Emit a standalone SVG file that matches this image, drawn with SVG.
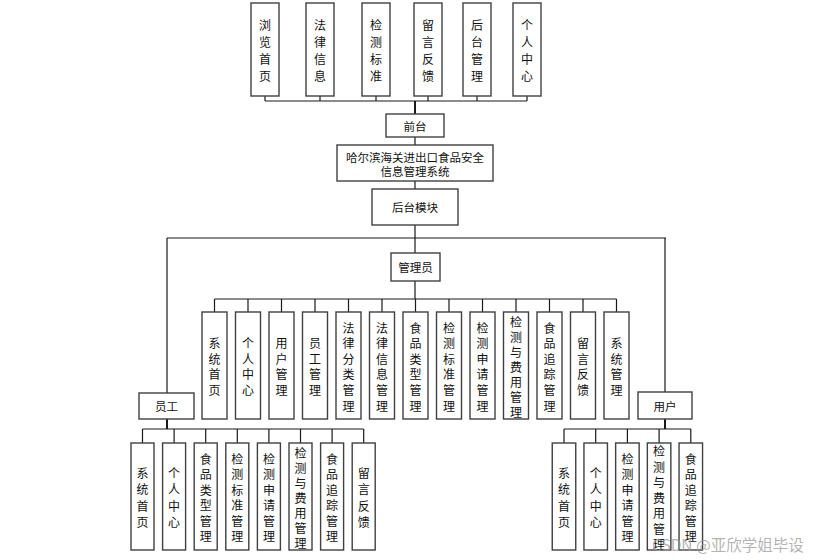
<svg xmlns="http://www.w3.org/2000/svg" width="816" height="560" viewBox="0 0 816 560">
<style>
.b{fill:#fff;stroke:#404040;stroke-width:1.4}
.c{fill:none;stroke:#1a1a1a;stroke-width:1.2}
.t{stroke-width:2}
text{font-family:"Noto Sans CJK SC","Noto Sans",sans-serif;fill:#111;text-anchor:middle;dominant-baseline:central}
.v{font-size:12px}
.h{font-size:11.5px}
.wm{font-size:15.5px;fill:#9a9a9a;fill-opacity:0.75;text-anchor:start;dominant-baseline:auto}
</style>
<rect width="816" height="560" fill="#fff"/>
<g id="connectors">
<path class="c" d="M265,96V101M320,96V101M376,96V101M428,96V101M477,96V101M527,96V101M265,101H527"/>
<path class="c t" d="M415,101V114"/>
<path class="c" d="M415,137V145M415,181V189M415,225V253M167,238H666M415,281V299"/>
<path class="c" d="M214.5,299H616.5M214.5,299V312M248,299V312M281.5,299V312M315,299V312M348.5,299V312M382,299V312M415.5,299V312M449,299V312M482.5,299V312M516,299V312M549.5,299V312M583,299V312M616.5,299V312"/>
<path class="c" d="M167,238V393M665,238V392"/>
<path class="c t" d="M167,419V429M665,419V429"/>
<path class="c" d="M142.5,429H363.7M142.5,429V443M174.1,429V443M205.7,429V443M237.3,429V443M268.9,429V443M300.5,429V443M332.1,429V443M363.7,429V443"/>
<path class="c" d="M564,429H690.8M564,429V443M595.7,429V443M627.4,429V443M659.1,429V443M690.8,429V443"/>
</g>
<g id="top1"><rect class="b" x="251" y="3" width="28" height="93"/><text class="v"><tspan x="265" y="24">浏</tspan><tspan x="265" y="41">览</tspan><tspan x="265" y="58">首</tspan><tspan x="265" y="75">页</tspan></text></g>
<g id="top2"><rect class="b" x="306" y="3" width="28" height="93"/><text class="v"><tspan x="320" y="24">法</tspan><tspan x="320" y="41">律</tspan><tspan x="320" y="58">信</tspan><tspan x="320" y="75">息</tspan></text></g>
<g id="top3"><rect class="b" x="362" y="3" width="28" height="93"/><text class="v"><tspan x="376" y="24">检</tspan><tspan x="376" y="41">测</tspan><tspan x="376" y="58">标</tspan><tspan x="376" y="75">准</tspan></text></g>
<g id="top4"><rect class="b" x="414" y="3" width="28" height="93"/><text class="v"><tspan x="428" y="24">留</tspan><tspan x="428" y="41">言</tspan><tspan x="428" y="58">反</tspan><tspan x="428" y="75">馈</tspan></text></g>
<g id="top5"><rect class="b" x="463" y="3" width="28" height="93"/><text class="v"><tspan x="477" y="24">后</tspan><tspan x="477" y="41">台</tspan><tspan x="477" y="58">管</tspan><tspan x="477" y="75">理</tspan></text></g>
<g id="top6"><rect class="b" x="513" y="3" width="28" height="93"/><text class="v"><tspan x="527" y="24">个</tspan><tspan x="527" y="41">人</tspan><tspan x="527" y="58">中</tspan><tspan x="527" y="75">心</tspan></text></g>
<g id="qiantai"><rect class="b" x="386" y="114" width="58" height="23"/><text class="h" x="415" y="125.5">前台</text></g>
<g id="system"><rect class="b" x="337" y="145" width="156" height="36"/><text class="h" x="415" y="156.5">哈尔滨海关进出口食品安全</text><text class="h" x="415" y="170.5">信息管理系统</text></g>
<g id="houtai"><rect class="b" x="372" y="189" width="86" height="36"/><text class="h" x="415" y="207">后台模块</text></g>
<g id="admin"><rect class="b" x="391" y="253" width="49" height="28"/><text class="h" x="415.5" y="267">管理员</text></g>
<g id="a1"><rect class="b" x="202" y="312" width="25" height="107"/><text class="v"><tspan x="214.5" y="342.1">系</tspan><tspan x="214.5" y="357.7">统</tspan><tspan x="214.5" y="373.3">首</tspan><tspan x="214.5" y="388.9">页</tspan></text></g>
<g id="a2"><rect class="b" x="235.5" y="312" width="25" height="107"/><text class="v"><tspan x="248" y="342.1">个</tspan><tspan x="248" y="357.7">人</tspan><tspan x="248" y="373.3">中</tspan><tspan x="248" y="388.9">心</tspan></text></g>
<g id="a3"><rect class="b" x="269" y="312" width="25" height="107"/><text class="v"><tspan x="281.5" y="342.1">用</tspan><tspan x="281.5" y="357.7">户</tspan><tspan x="281.5" y="373.3">管</tspan><tspan x="281.5" y="388.9">理</tspan></text></g>
<g id="a4"><rect class="b" x="302.5" y="312" width="25" height="107"/><text class="v"><tspan x="315" y="342.1">员</tspan><tspan x="315" y="357.7">工</tspan><tspan x="315" y="373.3">管</tspan><tspan x="315" y="388.9">理</tspan></text></g>
<g id="a5"><rect class="b" x="336" y="312" width="25" height="107"/><text class="v"><tspan x="348.5" y="326.5">法</tspan><tspan x="348.5" y="342.1">律</tspan><tspan x="348.5" y="357.7">分</tspan><tspan x="348.5" y="373.3">类</tspan><tspan x="348.5" y="388.9">管</tspan><tspan x="348.5" y="404.5">理</tspan></text></g>
<g id="a6"><rect class="b" x="369.5" y="312" width="25" height="107"/><text class="v"><tspan x="382" y="326.5">法</tspan><tspan x="382" y="342.1">律</tspan><tspan x="382" y="357.7">信</tspan><tspan x="382" y="373.3">息</tspan><tspan x="382" y="388.9">管</tspan><tspan x="382" y="404.5">理</tspan></text></g>
<g id="a7"><rect class="b" x="403" y="312" width="25" height="107"/><text class="v"><tspan x="415.5" y="326.5">食</tspan><tspan x="415.5" y="342.1">品</tspan><tspan x="415.5" y="357.7">类</tspan><tspan x="415.5" y="373.3">型</tspan><tspan x="415.5" y="388.9">管</tspan><tspan x="415.5" y="404.5">理</tspan></text></g>
<g id="a8"><rect class="b" x="436.5" y="312" width="25" height="107"/><text class="v"><tspan x="449" y="326.5">检</tspan><tspan x="449" y="342.1">测</tspan><tspan x="449" y="357.7">标</tspan><tspan x="449" y="373.3">准</tspan><tspan x="449" y="388.9">管</tspan><tspan x="449" y="404.5">理</tspan></text></g>
<g id="a9"><rect class="b" x="470" y="312" width="25" height="107"/><text class="v"><tspan x="482.5" y="326.5">检</tspan><tspan x="482.5" y="342.1">测</tspan><tspan x="482.5" y="357.7">申</tspan><tspan x="482.5" y="373.3">请</tspan><tspan x="482.5" y="388.9">管</tspan><tspan x="482.5" y="404.5">理</tspan></text></g>
<g id="a10"><rect class="b" x="503.5" y="312" width="25" height="107"/><text class="v"><tspan x="516" y="320.5">检</tspan><tspan x="516" y="335.5">测</tspan><tspan x="516" y="350.5">与</tspan><tspan x="516" y="365.5">费</tspan><tspan x="516" y="380.5">用</tspan><tspan x="516" y="395.5">管</tspan><tspan x="516" y="410.5">理</tspan></text></g>
<g id="a11"><rect class="b" x="537" y="312" width="25" height="107"/><text class="v"><tspan x="549.5" y="326.5">食</tspan><tspan x="549.5" y="342.1">品</tspan><tspan x="549.5" y="357.7">追</tspan><tspan x="549.5" y="373.3">踪</tspan><tspan x="549.5" y="388.9">管</tspan><tspan x="549.5" y="404.5">理</tspan></text></g>
<g id="a12"><rect class="b" x="570.5" y="312" width="25" height="107"/><text class="v"><tspan x="583" y="342.1">留</tspan><tspan x="583" y="357.7">言</tspan><tspan x="583" y="373.3">反</tspan><tspan x="583" y="388.9">馈</tspan></text></g>
<g id="a13"><rect class="b" x="604" y="312" width="25" height="107"/><text class="v"><tspan x="616.5" y="342.1">系</tspan><tspan x="616.5" y="357.7">统</tspan><tspan x="616.5" y="373.3">管</tspan><tspan x="616.5" y="388.9">理</tspan></text></g>
<g id="staff"><rect class="b" x="139" y="393" width="55" height="26"/><text class="h" x="166.5" y="406">员工</text></g>
<g id="user"><rect class="b" x="638" y="392" width="54" height="27"/><text class="h" x="665" y="405.5">用户</text></g>
<g id="s1"><rect class="b" x="131" y="443" width="23" height="107"/><text class="v"><tspan x="142.5" y="471.6">系</tspan><tspan x="142.5" y="488.2">统</tspan><tspan x="142.5" y="504.8">首</tspan><tspan x="142.5" y="521.4">页</tspan></text></g>
<g id="s2"><rect class="b" x="162.6" y="443" width="23" height="107"/><text class="v"><tspan x="174.1" y="471.6">个</tspan><tspan x="174.1" y="488.2">人</tspan><tspan x="174.1" y="504.8">中</tspan><tspan x="174.1" y="521.4">心</tspan></text></g>
<g id="s3"><rect class="b" x="194.2" y="443" width="23" height="107"/><text class="v"><tspan x="205.7" y="458">食</tspan><tspan x="205.7" y="473.4">品</tspan><tspan x="205.7" y="488.8">类</tspan><tspan x="205.7" y="504.2">型</tspan><tspan x="205.7" y="519.6">管</tspan><tspan x="205.7" y="535">理</tspan></text></g>
<g id="s4"><rect class="b" x="225.8" y="443" width="23" height="107"/><text class="v"><tspan x="237.3" y="458">检</tspan><tspan x="237.3" y="473.4">测</tspan><tspan x="237.3" y="488.8">标</tspan><tspan x="237.3" y="504.2">准</tspan><tspan x="237.3" y="519.6">管</tspan><tspan x="237.3" y="535">理</tspan></text></g>
<g id="s5"><rect class="b" x="257.4" y="443" width="23" height="107"/><text class="v"><tspan x="268.9" y="458">检</tspan><tspan x="268.9" y="473.4">测</tspan><tspan x="268.9" y="488.8">申</tspan><tspan x="268.9" y="504.2">请</tspan><tspan x="268.9" y="519.6">管</tspan><tspan x="268.9" y="535">理</tspan></text></g>
<g id="s6"><rect class="b" x="289" y="443" width="23" height="107"/><text class="v"><tspan x="300.5" y="451.5">检</tspan><tspan x="300.5" y="466.5">测</tspan><tspan x="300.5" y="481.5">与</tspan><tspan x="300.5" y="496.5">费</tspan><tspan x="300.5" y="511.5">用</tspan><tspan x="300.5" y="526.5">管</tspan><tspan x="300.5" y="541.5">理</tspan></text></g>
<g id="s7"><rect class="b" x="320.6" y="443" width="23" height="107"/><text class="v"><tspan x="332.1" y="458">食</tspan><tspan x="332.1" y="473.4">品</tspan><tspan x="332.1" y="488.8">追</tspan><tspan x="332.1" y="504.2">踪</tspan><tspan x="332.1" y="519.6">管</tspan><tspan x="332.1" y="535">理</tspan></text></g>
<g id="s8"><rect class="b" x="352.2" y="443" width="23" height="107"/><text class="v"><tspan x="363.7" y="471.6">留</tspan><tspan x="363.7" y="488.2">言</tspan><tspan x="363.7" y="504.8">反</tspan><tspan x="363.7" y="521.4">馈</tspan></text></g>
<g id="u1"><rect class="b" x="552.25" y="443" width="23.5" height="107"/><text class="v"><tspan x="564" y="471.6">系</tspan><tspan x="564" y="488.2">统</tspan><tspan x="564" y="504.8">首</tspan><tspan x="564" y="521.4">页</tspan></text></g>
<g id="u2"><rect class="b" x="583.95" y="443" width="23.5" height="107"/><text class="v"><tspan x="595.7" y="471.6">个</tspan><tspan x="595.7" y="488.2">人</tspan><tspan x="595.7" y="504.8">中</tspan><tspan x="595.7" y="521.4">心</tspan></text></g>
<g id="u3"><rect class="b" x="615.65" y="443" width="23.5" height="107"/><text class="v"><tspan x="627.4" y="458">检</tspan><tspan x="627.4" y="473.4">测</tspan><tspan x="627.4" y="488.8">申</tspan><tspan x="627.4" y="504.2">请</tspan><tspan x="627.4" y="519.6">管</tspan><tspan x="627.4" y="535">理</tspan></text></g>
<g id="u4"><rect class="b" x="647.35" y="443" width="23.5" height="107"/><text class="v"><tspan x="659.1" y="450">检</tspan><tspan x="659.1" y="465.5">测</tspan><tspan x="659.1" y="481">与</tspan><tspan x="659.1" y="496.5">费</tspan><tspan x="659.1" y="512">用</tspan><tspan x="659.1" y="527.5">管</tspan><tspan x="659.1" y="543">理</tspan></text></g>
<g id="u5"><rect class="b" x="679.05" y="443" width="23.5" height="107"/><text class="v"><tspan x="690.8" y="458">食</tspan><tspan x="690.8" y="473.4">品</tspan><tspan x="690.8" y="488.8">追</tspan><tspan x="690.8" y="504.2">踪</tspan><tspan x="690.8" y="519.6">管</tspan><tspan x="690.8" y="535">理</tspan></text></g>
<text class="wm" x="652" y="551">CSDN @亚欣学姐毕设</text>
</svg>
